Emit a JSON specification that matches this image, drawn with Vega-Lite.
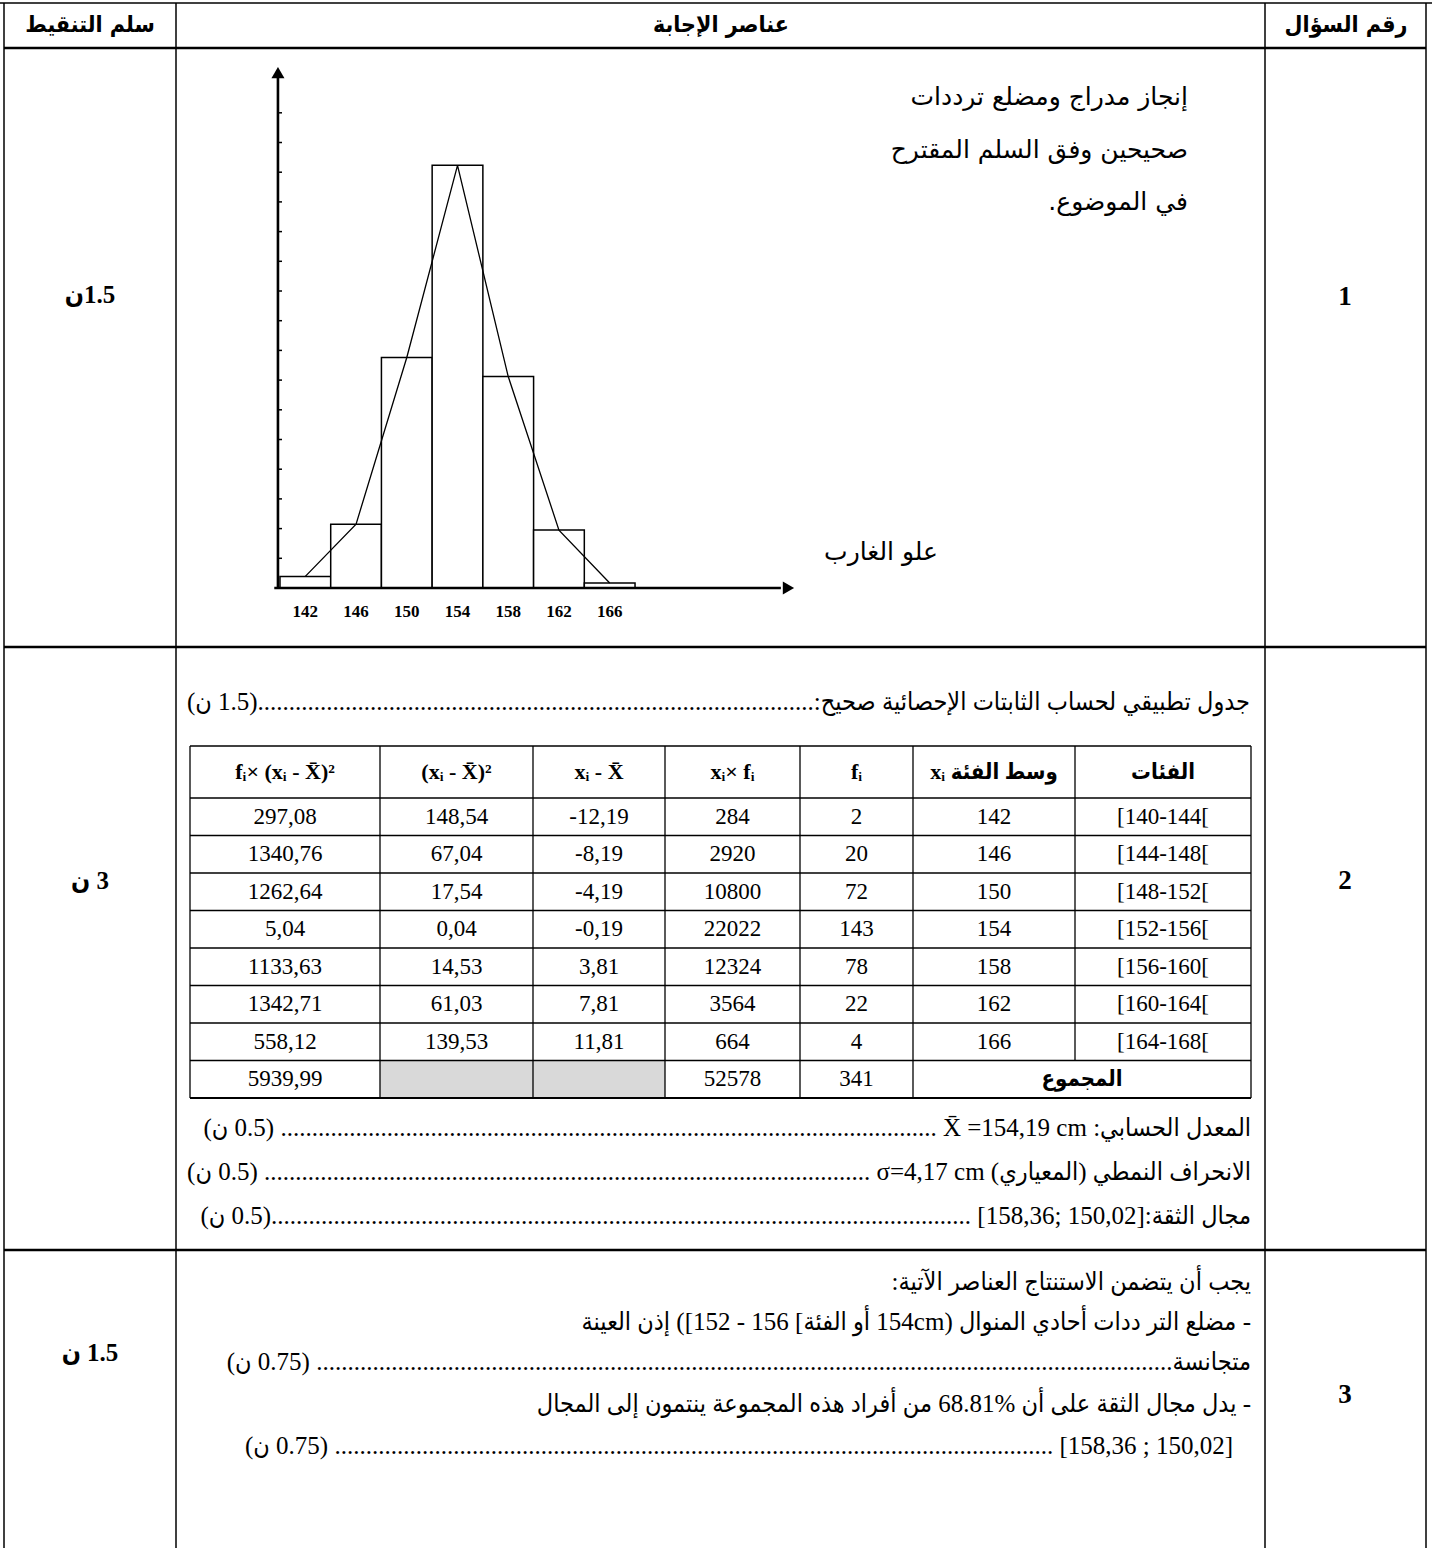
{
  "$schema": "https://vega.github.io/schema/vega-lite/v6.json",
  "width": 1432,
  "height": 1548,
  "autosize": {"type": "none"},
  "padding": 0,
  "background": "white",
  "config": {"view": {"stroke": null}},
  "datasets": {
    "gray": [
      {"x": 380, "x2": 533, "y": 1060.5, "y2": 1098},
      {"x": 533, "x2": 665, "y": 1060.5, "y2": 1098}
    ],
    "lines": [
      {"x": 0, "y": 3, "x2": 1432, "y2": 3, "k": "fv"},
      {"x": 4, "y": 3, "x2": 4, "y2": 1548, "k": "fv"},
      {"x": 176, "y": 3, "x2": 176, "y2": 1548, "k": "fv"},
      {"x": 1265, "y": 3, "x2": 1265, "y2": 1548, "k": "fv"},
      {"x": 1426, "y": 3, "x2": 1426, "y2": 1548, "k": "fv"},
      {"x": 4, "y": 48, "x2": 1426, "y2": 48, "k": "fh"},
      {"x": 4, "y": 647, "x2": 1426, "y2": 647, "k": "fh"},
      {"x": 4, "y": 1250, "x2": 1426, "y2": 1250, "k": "fh"},
      {"x": 190, "y": 746, "x2": 190, "y2": 1098, "k": "g"},
      {"x": 380, "y": 746, "x2": 380, "y2": 1098, "k": "g"},
      {"x": 533, "y": 746, "x2": 533, "y2": 1098, "k": "g"},
      {"x": 665, "y": 746, "x2": 665, "y2": 1098, "k": "g"},
      {"x": 800, "y": 746, "x2": 800, "y2": 1098, "k": "g"},
      {"x": 913, "y": 746, "x2": 913, "y2": 1098, "k": "g"},
      {"x": 1075, "y": 746, "x2": 1075, "y2": 1060.5, "k": "g"},
      {"x": 1251, "y": 746, "x2": 1251, "y2": 1098, "k": "g"},
      {"x": 190, "y": 746, "x2": 1251, "y2": 746, "k": "g"},
      {"x": 190, "y": 798, "x2": 1251, "y2": 798, "k": "g"},
      {"x": 190, "y": 835.5, "x2": 1251, "y2": 835.5, "k": "g"},
      {"x": 190, "y": 873, "x2": 1251, "y2": 873, "k": "g"},
      {"x": 190, "y": 910.5, "x2": 1251, "y2": 910.5, "k": "g"},
      {"x": 190, "y": 948, "x2": 1251, "y2": 948, "k": "g"},
      {"x": 190, "y": 985.5, "x2": 1251, "y2": 985.5, "k": "g"},
      {"x": 190, "y": 1023, "x2": 1251, "y2": 1023, "k": "g"},
      {"x": 190, "y": 1060.5, "x2": 1251, "y2": 1060.5, "k": "g"},
      {"x": 190, "y": 1098, "x2": 1251, "y2": 1098, "k": "gb"}
    ],
    "texts": [
      {"t": "\u202bسلم التنقيط\u202c", "x": 90, "y": 25, "role": "head"},
      {"t": "\u202bعناصر الإجابة\u202c", "x": 721, "y": 25, "role": "head"},
      {"t": "\u202bرقم السؤال\u202c", "x": 1346, "y": 25, "role": "head"},
      {"t": "1", "x": 1345, "y": 297, "role": "num"},
      {"t": "2", "x": 1345, "y": 881, "role": "num"},
      {"t": "3", "x": 1345, "y": 1395, "role": "num"},
      {"t": "\u202b1.5ن\u202c", "x": 90, "y": 295, "role": "score"},
      {"t": "\u202b3 ن\u202c", "x": 90, "y": 881, "role": "score"},
      {"t": "\u202b1.5 ن\u202c", "x": 90, "y": 1353, "role": "score"},
      {"t": "\u202bإنجاز مدراج ومضلع ترددات\u202c", "x": 1188, "y": 97, "role": "para"},
      {"t": "\u202bصحيحين وفق السلم المقترح\u202c", "x": 1188, "y": 150, "role": "para"},
      {"t": "\u202bفي الموضوع.\u202c", "x": 1188, "y": 202, "role": "para"},
      {"t": "\u202bعلو الغارب\u202c", "x": 938, "y": 552, "role": "para"},
      {"t": "\u202bجدول تطبيقي لحساب الثابتات الإحصائية صحيح:.........................................................................................(1.5 ن)\u202c", "x": 1250, "y": 702, "role": "body"},
      {"t": "\u202d(ن 0.5) ......................................................................................................... X̄  =154,19 cm  \u202bالمعدل الحسابي:\u202c\u202c", "x": 1251, "y": 1128, "role": "body"},
      {"t": "\u202d(ن 0.5) ................................................................................................. σ=4,17 cm    \u202bالانحراف النمطي (المعياري)\u202c\u202c", "x": 1251, "y": 1172, "role": "body"},
      {"t": "\u202bمجال الثقة:[150,02 ;158,36] ................................................................................................................(0.5 ن)\u202c", "x": 1251, "y": 1216, "role": "body"},
      {"t": "\u202bيجب أن يتضمن الاستنتاج العناصر الآتية:\u202c", "x": 1251, "y": 1282, "role": "body"},
      {"t": "\u202b- مضلع التر ددات أحادي المنوال (154cm أو الفئة] 156 - 152]) إذن العينة\u202c", "x": 1251, "y": 1322, "role": "body"},
      {"t": "\u202bمتجانسة......................................................................................................................................... (0.75 ن)\u202c", "x": 1251, "y": 1362, "role": "body"},
      {"t": "\u202b- يدل مجال الثقة على أن %68.81 من أفراد هذه المجموعة ينتمون إلى المجال\u202c", "x": 1251, "y": 1404, "role": "body"},
      {"t": "\u202b[150,02 ; 158,36] ................................................................................................................... (0.75 ن)\u202c", "x": 1233, "y": 1446, "role": "body"},
      {"t": "fᵢ× (xᵢ - X̄)²", "x": 285, "y": 772, "role": "th"},
      {"t": "(xᵢ - X̄)²", "x": 456.5, "y": 772, "role": "th"},
      {"t": "xᵢ - X̄", "x": 599, "y": 772, "role": "th"},
      {"t": "xᵢ× fᵢ", "x": 732.5, "y": 772, "role": "th"},
      {"t": "fᵢ", "x": 856.5, "y": 772, "role": "th"},
      {"t": "\u202bوسط الفئة xᵢ\u202c", "x": 994, "y": 772, "role": "th"},
      {"t": "\u202bالفئات\u202c", "x": 1163, "y": 772, "role": "th"},
      {"t": "297,08", "x": 285, "y": 817, "role": "td"},
      {"t": "148,54", "x": 456.5, "y": 817, "role": "td"},
      {"t": "-12,19", "x": 599, "y": 817, "role": "td"},
      {"t": "284", "x": 732.5, "y": 817, "role": "td"},
      {"t": "2", "x": 856.5, "y": 817, "role": "td"},
      {"t": "142", "x": 994, "y": 817, "role": "td"},
      {"t": "[140-144[", "x": 1163, "y": 817, "role": "td"},
      {"t": "1340,76", "x": 285, "y": 854, "role": "td"},
      {"t": "67,04", "x": 456.5, "y": 854, "role": "td"},
      {"t": "-8,19", "x": 599, "y": 854, "role": "td"},
      {"t": "2920", "x": 732.5, "y": 854, "role": "td"},
      {"t": "20", "x": 856.5, "y": 854, "role": "td"},
      {"t": "146", "x": 994, "y": 854, "role": "td"},
      {"t": "[144-148[", "x": 1163, "y": 854, "role": "td"},
      {"t": "1262,64", "x": 285, "y": 892, "role": "td"},
      {"t": "17,54", "x": 456.5, "y": 892, "role": "td"},
      {"t": "-4,19", "x": 599, "y": 892, "role": "td"},
      {"t": "10800", "x": 732.5, "y": 892, "role": "td"},
      {"t": "72", "x": 856.5, "y": 892, "role": "td"},
      {"t": "150", "x": 994, "y": 892, "role": "td"},
      {"t": "[148-152[", "x": 1163, "y": 892, "role": "td"},
      {"t": "5,04", "x": 285, "y": 929, "role": "td"},
      {"t": "0,04", "x": 456.5, "y": 929, "role": "td"},
      {"t": "-0,19", "x": 599, "y": 929, "role": "td"},
      {"t": "22022", "x": 732.5, "y": 929, "role": "td"},
      {"t": "143", "x": 856.5, "y": 929, "role": "td"},
      {"t": "154", "x": 994, "y": 929, "role": "td"},
      {"t": "[152-156[", "x": 1163, "y": 929, "role": "td"},
      {"t": "1133,63", "x": 285, "y": 967, "role": "td"},
      {"t": "14,53", "x": 456.5, "y": 967, "role": "td"},
      {"t": "3,81", "x": 599, "y": 967, "role": "td"},
      {"t": "12324", "x": 732.5, "y": 967, "role": "td"},
      {"t": "78", "x": 856.5, "y": 967, "role": "td"},
      {"t": "158", "x": 994, "y": 967, "role": "td"},
      {"t": "[156-160[", "x": 1163, "y": 967, "role": "td"},
      {"t": "1342,71", "x": 285, "y": 1004, "role": "td"},
      {"t": "61,03", "x": 456.5, "y": 1004, "role": "td"},
      {"t": "7,81", "x": 599, "y": 1004, "role": "td"},
      {"t": "3564", "x": 732.5, "y": 1004, "role": "td"},
      {"t": "22", "x": 856.5, "y": 1004, "role": "td"},
      {"t": "162", "x": 994, "y": 1004, "role": "td"},
      {"t": "[160-164[", "x": 1163, "y": 1004, "role": "td"},
      {"t": "558,12", "x": 285, "y": 1042, "role": "td"},
      {"t": "139,53", "x": 456.5, "y": 1042, "role": "td"},
      {"t": "11,81", "x": 599, "y": 1042, "role": "td"},
      {"t": "664", "x": 732.5, "y": 1042, "role": "td"},
      {"t": "4", "x": 856.5, "y": 1042, "role": "td"},
      {"t": "166", "x": 994, "y": 1042, "role": "td"},
      {"t": "[164-168[", "x": 1163, "y": 1042, "role": "td"},
      {"t": "5939,99", "x": 285, "y": 1079, "role": "td"},
      {"t": "52578", "x": 732.5, "y": 1079, "role": "td"},
      {"t": "341", "x": 856.5, "y": 1079, "role": "td"},
      {"t": "\u202bالمجموع\u202c", "x": 1082, "y": 1079, "role": "th"}
    ],
    "hbars": [
      {"lo": 140, "hi": 144, "mid": 142, "f": 3.9},
      {"lo": 144, "hi": 148, "mid": 146, "f": 21.5},
      {"lo": 148, "hi": 152, "mid": 150, "f": 77.6},
      {"lo": 152, "hi": 156, "mid": 154, "f": 142.3},
      {"lo": 156, "hi": 160, "mid": 158, "f": 71.2},
      {"lo": 160, "hi": 164, "mid": 162, "f": 19.5},
      {"lo": 164, "hi": 168, "mid": 166, "f": 1.7}
    ],
    "hticks": [
      {"v": 10}, {"v": 20}, {"v": 30}, {"v": 40}, {"v": 50}, {"v": 60}, {"v": 70}, {"v": 80},
      {"v": 90}, {"v": 100}, {"v": 110}, {"v": 120}, {"v": 130}, {"v": 140}, {"v": 150}, {"v": 160}
    ],
    "haxes": [
      {"ax": 139.84, "ay": 0, "ax2": 139.84, "ay2": 172},
      {"ax": 139.55, "ay": 0, "ax2": 179.5, "ay2": 0}
    ],
    "harrows": [
      {"ax": 139.84, "ay": 173.5, "shape": "triangle-up"},
      {"ax": 180.1, "ay": 0, "shape": "triangle-right"}
    ]
  },
  "layer": [
    {
      "encoding": {
        "x": {"field": "x", "type": "quantitative", "scale": {"domain": [0, 1432], "nice": false, "zero": false}, "axis": null},
        "y": {"field": "y", "type": "quantitative", "scale": {"domain": [0, 1548], "reverse": true, "nice": false, "zero": false}, "axis": null}
      },
      "layer": [
        {"data": {"name": "gray"}, "mark": {"type": "rect", "fill": "#d9d9d9"}, "encoding": {"x2": {"field": "x2"}, "y2": {"field": "y2"}}},
        {"data": {"name": "lines"}, "transform": [{"filter": "datum.k === 'g'"}], "mark": {"type": "rule", "color": "black", "strokeWidth": 1.3}, "encoding": {"x2": {"field": "x2"}, "y2": {"field": "y2"}}},
        {"data": {"name": "lines"}, "transform": [{"filter": "datum.k === 'gb'"}], "mark": {"type": "rule", "color": "black", "strokeWidth": 2.2}, "encoding": {"x2": {"field": "x2"}, "y2": {"field": "y2"}}},
        {"data": {"name": "lines"}, "transform": [{"filter": "datum.k === 'fv'"}], "mark": {"type": "rule", "color": "black", "strokeWidth": 1.5}, "encoding": {"x2": {"field": "x2"}, "y2": {"field": "y2"}}},
        {"data": {"name": "lines"}, "transform": [{"filter": "datum.k === 'fh'"}], "mark": {"type": "rule", "color": "black", "strokeWidth": 2.6}, "encoding": {"x2": {"field": "x2"}, "y2": {"field": "y2"}}},
        {"data": {"name": "texts"}, "transform": [{"filter": "datum.role === 'head'"}], "mark": {"type": "text", "align": "center", "baseline": "middle", "font": "DejaVu Sans Condensed, DejaVu Sans", "fontWeight": "bold", "fontSize": 23, "color": "black"}, "encoding": {"text": {"field": "t"}}},
        {"data": {"name": "texts"}, "transform": [{"filter": "datum.role === 'num'"}], "mark": {"type": "text", "align": "center", "baseline": "middle", "font": "Liberation Serif", "fontWeight": "bold", "fontSize": 27, "color": "black"}, "encoding": {"text": {"field": "t"}}},
        {"data": {"name": "texts"}, "transform": [{"filter": "datum.role === 'score'"}], "mark": {"type": "text", "align": "center", "baseline": "middle", "font": "Liberation Serif, DejaVu Sans Condensed, DejaVu Sans", "fontWeight": "bold", "fontSize": 25, "color": "black"}, "encoding": {"text": {"field": "t"}}},
        {"data": {"name": "texts"}, "transform": [{"filter": "datum.role === 'para'"}], "mark": {"type": "text", "align": "right", "baseline": "middle", "font": "DejaVu Sans", "fontSize": 25, "color": "black"}, "encoding": {"text": {"field": "t"}}},
        {"data": {"name": "texts"}, "transform": [{"filter": "datum.role === 'body'"}], "mark": {"type": "text", "align": "right", "baseline": "middle", "font": "Liberation Serif, DejaVu Sans Condensed, DejaVu Sans", "fontSize": 25, "color": "black"}, "encoding": {"text": {"field": "t"}}},
        {"data": {"name": "texts"}, "transform": [{"filter": "datum.role === 'th'"}], "mark": {"type": "text", "align": "center", "baseline": "middle", "font": "Liberation Serif, DejaVu Sans Condensed, DejaVu Sans", "fontWeight": "bold", "fontSize": 22, "color": "black"}, "encoding": {"text": {"field": "t"}}},
        {"data": {"name": "texts"}, "transform": [{"filter": "datum.role === 'td'"}], "mark": {"type": "text", "align": "center", "baseline": "middle", "font": "Liberation Serif", "fontSize": 23, "color": "black"}, "encoding": {"text": {"field": "t"}}}
      ]
    },
    {
      "layer": [
        {
          "data": {"name": "hbars"},
          "mark": {"type": "rect", "fill": "white", "stroke": "black", "strokeWidth": 1.5},
          "encoding": {
            "x": {"field": "lo", "type": "quantitative", "scale": {"domain": [117.92, 230.85], "nice": false, "zero": false}, "axis": null},
            "x2": {"field": "hi"},
            "y": {"field": "f", "type": "quantitative", "scale": {"domain": [-323.23, 197.98], "nice": false, "zero": false}, "axis": null},
            "y2": {"datum": 0}
          }
        },
        {
          "data": {"name": "hbars"},
          "mark": {"type": "line", "color": "black", "strokeWidth": 1.3},
          "encoding": {
            "x": {"field": "mid", "type": "quantitative", "scale": {"domain": [117.92, 230.85], "nice": false, "zero": false}, "axis": null},
            "y": {"field": "f", "type": "quantitative", "scale": {"domain": [-323.23, 197.98], "nice": false, "zero": false}, "axis": null}
          }
        },
        {
          "data": {"name": "hticks"},
          "mark": {"type": "rule", "color": "black", "strokeWidth": 1.5},
          "encoding": {
            "x": {"datum": 139.84, "type": "quantitative", "scale": {"domain": [117.92, 230.85], "nice": false, "zero": false}, "axis": null},
            "x2": {"datum": 140.16},
            "y": {"field": "v", "type": "quantitative", "scale": {"domain": [-323.23, 197.98], "nice": false, "zero": false}, "axis": null}
          }
        },
        {
          "data": {"name": "haxes"},
          "mark": {"type": "rule", "color": "black", "strokeWidth": 2.6},
          "encoding": {
            "x": {"field": "ax", "type": "quantitative", "scale": {"domain": [117.92, 230.85], "nice": false, "zero": false}, "axis": null},
            "x2": {"field": "ax2"},
            "y": {"field": "ay", "type": "quantitative", "scale": {"domain": [-323.23, 197.98], "nice": false, "zero": false}, "axis": null},
            "y2": {"field": "ay2"}
          }
        },
        {
          "data": {"name": "harrows"},
          "mark": {"type": "point", "filled": true, "color": "black", "size": 170, "opacity": 1},
          "encoding": {
            "x": {"field": "ax", "type": "quantitative", "scale": {"domain": [117.92, 230.85], "nice": false, "zero": false}, "axis": null},
            "y": {"field": "ay", "type": "quantitative", "scale": {"domain": [-323.23, 197.98], "nice": false, "zero": false}, "axis": null},
            "shape": {"field": "shape", "type": "nominal", "scale": null, "legend": null}
          }
        },
        {
          "data": {"name": "hbars"},
          "mark": {"type": "text", "align": "center", "baseline": "middle", "font": "Liberation Serif", "fontWeight": "bold", "fontSize": 17, "color": "black"},
          "encoding": {
            "x": {"field": "mid", "type": "quantitative", "scale": {"domain": [117.92, 230.85], "nice": false, "zero": false}, "axis": null},
            "y": {"datum": -8.1, "type": "quantitative", "scale": {"domain": [-323.23, 197.98], "nice": false, "zero": false}, "axis": null},
            "text": {"field": "mid"}
          }
        }
      ]
    }
  ],
  "resolve": {"scale": {"x": "independent", "y": "independent"}}
}
